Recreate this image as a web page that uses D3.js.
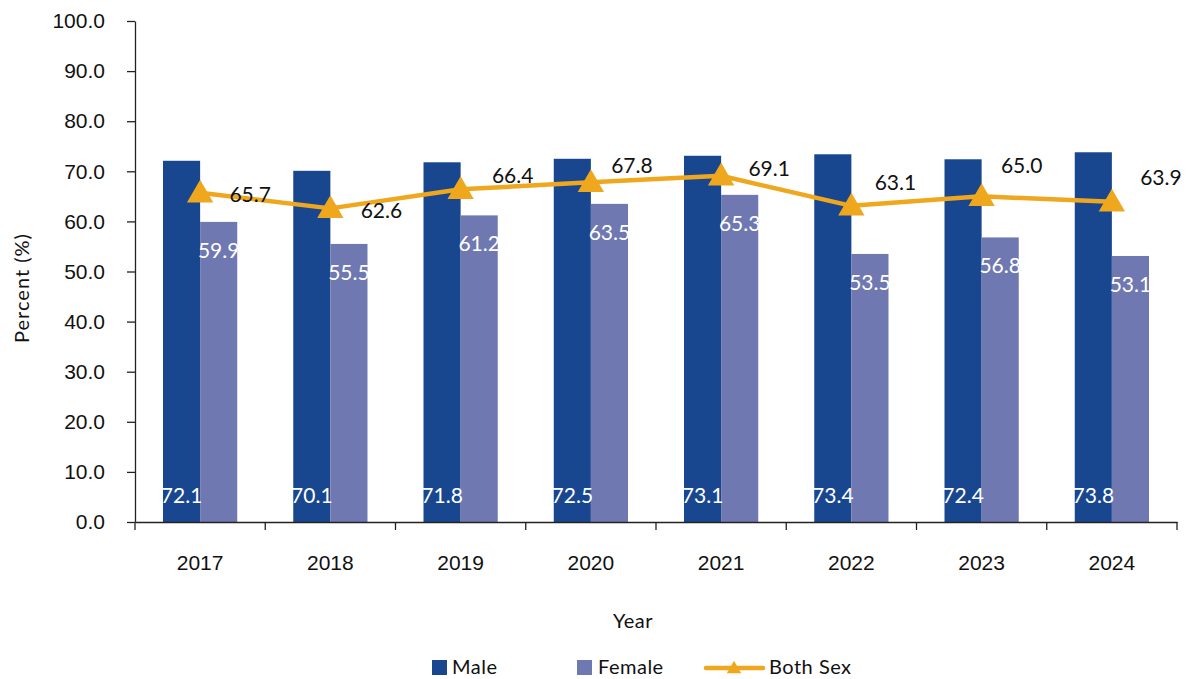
<!DOCTYPE html>
<html>
<head>
<meta charset="utf-8">
<script src="https://cdn.jsdelivr.net/npm/d3@7"></script>
<style>
  body { margin: 0; background: #fff; }
  svg { display: block; font-family: Lato, "Noto Sans", sans-serif; }
</style>
</head>
<body>
<svg width="1187" height="679"></svg>
<script>
// data
const years = ["2017", "2018", "2019", "2020", "2021", "2022", "2023", "2024"];
const male = [72.1, 70.1, 71.8, 72.5, 73.1, 73.4, 72.4, 73.8];
const female = [59.9, 55.5, 61.2, 63.5, 65.3, 53.5, 56.8, 53.1];
const bothSex = [65.7, 62.6, 66.4, 67.8, 69.1, 63.1, 65.0, 63.9];
const yTicks = [0, 10, 20, 30, 40, 50, 60, 70, 80, 90, 100];

// manual nudges of the line labels (like in the original)
const lineLabelNudge = [[50, 1], [51, 2], [52, -14], [41, -17], [48, -8], [44, -24], [40, -31], [49, -25]];

const colors = { male: "#19478F", female: "#6F78B0", both: "#EFA71D" };
const fs = 21;

const svg = d3.select("svg");
const area = { left: 135, right: 1177, top: 21, bottom: 522 };

const scX = d3.scaleBand().domain(years).range([area.left, area.right]).padding(0);
const scY = d3.scaleLinear().domain([0, 100]).range([area.bottom, area.top]);

const bw = scX.bandwidth() * 0.285;
const cx = d => scX(d) + scX.bandwidth() / 2;

// y axis
const gy = svg.append("g")
    .attr("transform", `translate(${area.left},0)`)
    .call(d3.axisLeft(scY).tickValues(yTicks).tickFormat(d3.format(".1f")).tickSize(8).tickPadding(22).tickSizeOuter(0));
gy.select(".domain").attr("stroke", "#222").attr("stroke-width", 1.3);
gy.selectAll(".tick line").attr("stroke", "#222").attr("stroke-width", 1.3);
gy.selectAll("text").attr("font-size", fs).attr("fill", "#111");

// bars
const dataRows = years.map((y, i) => ({ year: y, m: male[i], f: female[i], b: bothSex[i], i: i }));

svg.selectAll(".bar-m").data(dataRows).enter().append("rect")
    .attr("class", "bar-m")
    .attr("x", d => cx(d.year) - bw)
    .attr("y", d => scY(d.m))
    .attr("width", bw)
    .attr("height", d => scY(0) - scY(d.m))
    .attr("fill", colors.male);

svg.selectAll(".bar-f").data(dataRows).enter().append("rect")
    .attr("class", "bar-f")
    .attr("x", d => cx(d.year))
    .attr("y", d => scY(d.f))
    .attr("width", bw)
    .attr("height", d => scY(0) - scY(d.f))
    .attr("fill", colors.female);

// x axis: labels at centers, ticks on the band edges
const gx = svg.append("g")
    .attr("transform", `translate(0,${area.bottom})`)
    .call(d3.axisBottom(scX).tickSize(0).tickPadding(33).tickSizeOuter(0));
gx.select(".domain").attr("stroke", "#222").attr("stroke-width", 1.3);
gx.selectAll("text").attr("font-size", fs).attr("fill", "#111");

const edges = d3.range(years.length + 1).map(k => area.left + k * scX.step());
svg.selectAll(".xtick").data(edges).enter().append("line")
    .attr("x1", d => d).attr("x2", d => d)
    .attr("y1", area.bottom).attr("y2", area.bottom + 8)
    .attr("stroke", "#222").attr("stroke-width", 1.3);

// bar labels
svg.selectAll(".lab-m").data(dataRows).enter().append("text")
    .attr("x", d => cx(d.year) - bw / 2)
    .attr("y", area.bottom - 19)
    .attr("text-anchor", "middle")
    .attr("font-size", fs)
    .attr("fill", "#fff")
    .text(d => d.m.toFixed(1));

svg.selectAll(".lab-f").data(dataRows).enter().append("text")
    .attr("x", d => cx(d.year) + bw / 2)
    .attr("y", d => scY(d.f) + 36)
    .attr("text-anchor", "middle")
    .attr("font-size", fs)
    .attr("fill", "#fff")
    .text(d => d.f.toFixed(1));

// line
const line = d3.line().x(d => cx(d.year)).y(d => scY(d.b));
svg.append("path").datum(dataRows)
    .attr("d", line)
    .attr("fill", "none")
    .attr("stroke", colors.both)
    .attr("stroke-width", 4.5)
    .attr("stroke-linejoin", "round");

const tri = d3.symbol().type(d3.symbolTriangle).size(300);
svg.selectAll(".mark").data(dataRows).enter().append("path")
    .attr("d", tri)
    .attr("transform", d => `translate(${cx(d.year)},${scY(d.b) + 2})`)
    .attr("fill", colors.both);

svg.selectAll(".lab-b").data(dataRows).enter().append("text")
    .attr("x", d => cx(d.year) + lineLabelNudge[d.i][0])
    .attr("y", d => scY(d.b) + lineLabelNudge[d.i][1] + 8)
    .attr("text-anchor", "middle")
    .attr("font-size", fs)
    .attr("fill", "#111")
    .text(d => d.b.toFixed(1));

// axis titles
svg.append("text")
    .attr("transform", "translate(29,288) rotate(-90)")
    .attr("text-anchor", "middle")
    .attr("font-size", 20)
    .attr("letter-spacing", 1)
    .attr("fill", "#111")
    .text("Percent (%)");

svg.append("text")
    .attr("x", 633).attr("y", 628)
    .attr("text-anchor", "middle")
    .attr("font-size", 20)
    .attr("letter-spacing", 0.5)
    .attr("fill", "#111")
    .text("Year");

// legend
const lg = svg.append("g").attr("font-size", 20).attr("letter-spacing", 0.5).attr("fill", "#111");
lg.append("rect").attr("x", 432).attr("y", 660).attr("width", 15).attr("height", 15).attr("fill", colors.male);
lg.append("text").attr("x", 452).attr("y", 674).text("Male");
lg.append("rect").attr("x", 577).attr("y", 660).attr("width", 15).attr("height", 15).attr("fill", colors.female);
lg.append("text").attr("x", 598).attr("y", 674).text("Female");
lg.append("line").attr("x1", 706).attr("x2", 763).attr("y1", 668).attr("y2", 668)
    .attr("stroke", colors.both).attr("stroke-width", 4.5).attr("stroke-linecap", "round");
lg.append("path").attr("d", d3.symbol().type(d3.symbolTriangle).size(90))
    .attr("transform", "translate(734,669)").attr("fill", colors.both);
lg.append("text").attr("x", 769).attr("y", 674).text("Both Sex");
</script>
</body>
</html>
